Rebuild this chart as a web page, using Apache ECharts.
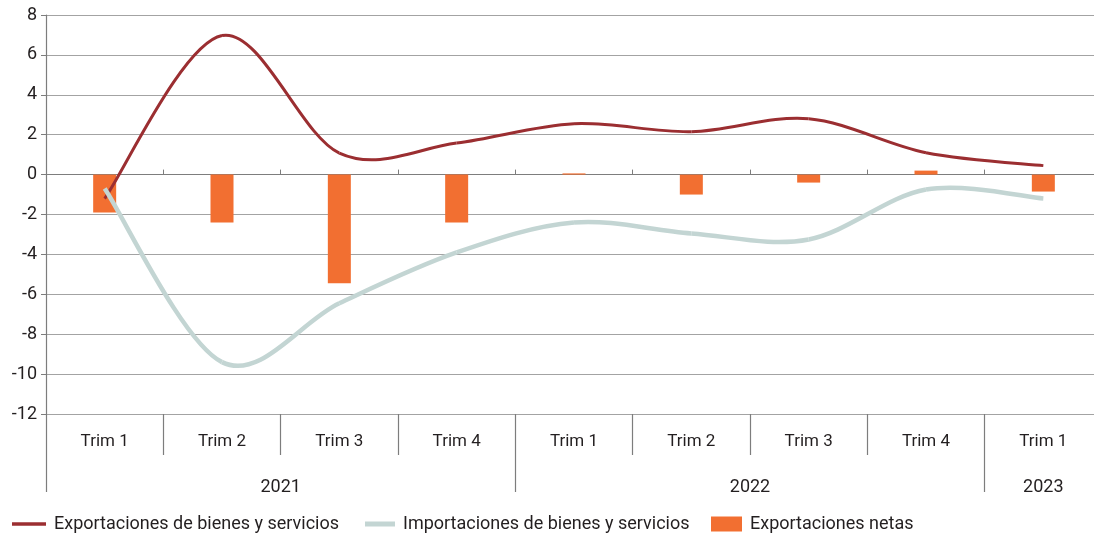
<!DOCTYPE html>
<html><head><meta charset="utf-8">
<script src="https://cdn.jsdelivr.net/npm/echarts@6/dist/echarts.min.js"></script>
<style>html,body{margin:0;padding:0;background:#fff}#c{width:1094px;height:536px}</style>
</head><body><div id="c"></div>
<script>
const quarters = ['Trim 1','Trim 2','Trim 3','Trim 4','Trim 1','Trim 2','Trim 3','Trim 4','Trim 1'];
const years = ['2021','2022','2023'];
const yearSpans = [4,4,1];
const exportaciones = [-1.2, 6.97, 1.08, 1.58, 2.55, 2.15, 2.8, 1.1, 0.45];
const importaciones = [-0.7, -9.4, -6.45, -3.9, -2.4, -2.95, -3.25, -0.75, -1.2];
const netas = [-1.9, -2.4, -5.45, -2.4, 0.06, -1.0, -0.4, 0.2, -0.85];
const seriesNames = ['Exportaciones de bienes y servicios','Importaciones de bienes y servicios','Exportaciones netas'];

// half-step category list for the year row (labels at group centres, ticks at group edges)
const halfLabels = new Array(quarters.length*2+1).fill('');
const boundaries = [0];
const yearLabelIdx = new Set();
let acc = 0;
years.forEach((y,i)=>{ halfLabels[acc + yearSpans[i]] = y; yearLabelIdx.add(acc + yearSpans[i]); acc += yearSpans[i]*2; boundaries.push(acc); });

const FONT = "Roboto, sans-serif";
const TXT = '#231f20';
const GRID = '#a3a3a3';
const AX = '#7d7d7d';

// Smooth (Catmull-Rom style) line drawn segment by segment through the axis scales
function smoothLine(name, values, color, width, z) {
  const n = values.length;
  return {
    name, type:'custom', xAxisIndex:0, yAxisIndex:0, z,
    itemStyle:{color},
    data: values.map((v,i)=>[i,v]),
    encode:{x:0, y:1},
    renderItem:(params, api)=>{
      const i = params.dataIndex;
      if (i >= n-1) return null;
      const P = k => { const kk = Math.max(0, Math.min(n-1, k)); return api.coord([kk, values[kk]]); };
      const p0 = P(i-1), p1 = P(i), p2 = P(i+1), p3 = P(i+2);
      const t = 1/6;
      return {
        type:'bezierCurve',
        shape:{
          x1:p1[0], y1:p1[1], x2:p2[0], y2:p2[1],
          cpx1:p1[0] + (p2[0]-p0[0])*t, cpy1:p1[1] + (p2[1]-p0[1])*t,
          cpx2:p2[0] - (p3[0]-p1[0])*t, cpy2:p2[1] - (p3[1]-p1[1])*t
        },
        style:{stroke:color, lineWidth:width, fill:null, lineCap:'butt'}
      };
    }
  };
}

function legendItem(name, left, w, h, icon) {
  return {
    left, top:510, itemWidth:w, itemHeight:h, selectedMode:false,
    textStyle:{fontFamily:FONT, fontSize:18, color:TXT, padding:[0,0,0,3]},
    data:[{name, icon}]
  };
}

const chart = echarts.init(document.getElementById('c'), null, {renderer:'canvas'});
chart.setOption({
  animation:false,
  textStyle:{fontFamily:FONT},
  grid:{left:46, width:1056, top:15, bottom:122, containLabel:false, outerBoundsMode:'none'},
  legend:[
    legendItem(seriesNames[0], 7, 34, 15, 'path://M0,0h34v3.5h-34z'),
    legendItem(seriesNames[1], 360, 30, 15, 'path://M0,0h30v5h-30z'),
    legendItem(seriesNames[2], 706, 31, 15, 'rect')
  ],
  xAxis:[
    { type:'category', data:quarters,
      axisLine:{onZero:true, lineStyle:{color:AX, width:1.2}},
      axisTick:{show:true, inside:true, length:5, lineStyle:{color:AX}},
      axisLabel:{show:false}, splitLine:{show:false}
    },
    { type:'category', data:quarters, position:'bottom',
      axisLine:{onZero:false, show:true, lineStyle:{color:GRID, width:1.2}},
      axisTick:{show:true, length:41, lineStyle:{color:AX, width:1.2}},
      axisLabel:{show:true, margin:19, fontSize:17, color:TXT, fontFamily:FONT},
      splitLine:{show:false}
    },
    { type:'category', data:halfLabels, position:'bottom', offset:41, boundaryGap:false,
      axisLine:{onZero:false, show:false},
      axisTick:{show:true, length:37, interval:(i)=>boundaries.includes(i), lineStyle:{color:AX, width:1.2}},
      axisLabel:{show:true, interval:(i)=>yearLabelIdx.has(i), margin:23, fontSize:18, color:TXT, fontFamily:FONT},
      splitLine:{show:false}
    }
  ],
  yAxis:{
    type:'value', min:-12, max:8, interval:2,
    axisLine:{show:true, lineStyle:{color:AX, width:1.2}},
    axisTick:{show:true, length:5, lineStyle:{color:AX}},
    axisLabel:{fontSize:18, color:TXT, margin:9, fontFamily:FONT},
    splitLine:{show:true, lineStyle:{color:GRID, width:1.2}}
  },
  series:[
    { name:seriesNames[2], type:'bar', xAxisIndex:0, data:netas, barWidth:23,
      itemStyle:{color:'#f26f31'}, z:1 },
    smoothLine(seriesNames[0], exportaciones, '#9b2e31', 3, 2),
    smoothLine(seriesNames[1], importaciones, '#c3d5d3', 4.5, 3)
  ]
});
</script></body></html>
